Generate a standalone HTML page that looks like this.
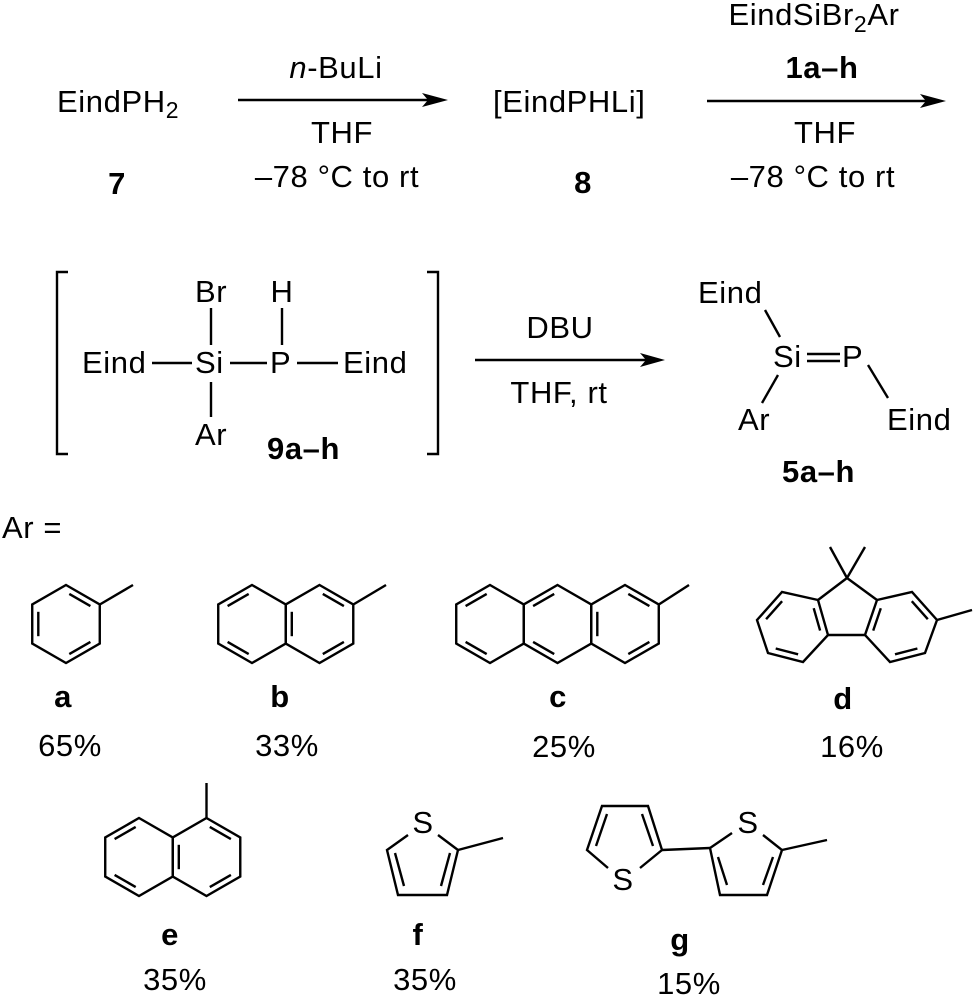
<!DOCTYPE html>
<html><head><meta charset="utf-8"><style>
html,body{margin:0;padding:0;background:#fff;}
svg{display:block;}
text{font-family:"Liberation Sans",Arial,sans-serif;font-size:31px;fill:#000;letter-spacing:0.6px;}
.b{font-weight:bold;}
line,polyline,polygon.r{stroke:#000;stroke-width:2.4;fill:none;stroke-linecap:butt;stroke-linejoin:miter;}
</style></head><body>
<svg width="975" height="1000" viewBox="0 0 975 1000" xmlns="http://www.w3.org/2000/svg">
<rect width="975" height="1000" fill="#fff"/>
<defs>
<g id="hex"><polygon class="r" points="0,-39 33.77,-19.5 33.77,19.5 0,39 -33.77,19.5 -33.77,-19.5"/></g>
<line id="i01" x1="3.3" y1="-30.1" x2="24.4" y2="-17.9"/>
<line id="i12" x1="27.7" y1="-12.2" x2="27.7" y2="12.2"/>
<line id="i23" x1="24.4" y1="17.9" x2="3.3" y2="30.1"/>
<line id="i34" x1="-3.3" y1="30.1" x2="-24.4" y2="17.9"/>
<line id="i45" x1="-27.7" y1="12.2" x2="-27.7" y2="-12.2"/>
<line id="i50" x1="-24.4" y1="-17.9" x2="-3.3" y2="-30.1"/>
</defs>

<!-- Top row -->
<text x="57" y="112">EindPH<tspan font-size="23" dy="6">2</tspan></text>
<text class="b" x="117" y="194" text-anchor="middle">7</text>
<text x="336" y="78" text-anchor="middle"><tspan font-style="italic">n</tspan>-BuLi</text>
<line x1="238" y1="100" x2="430" y2="100"/>
<polygon points="448,100 422,93 428,100 422,107" fill="#000"/>
<text x="342" y="143" text-anchor="middle">THF</text>
<text x="337" y="187" text-anchor="middle">–78 °C to rt</text>

<text x="493" y="112">[EindPHLi]</text>
<text class="b" x="583" y="193" text-anchor="middle">8</text>
<text x="814" y="25" text-anchor="middle">EindSiBr<tspan font-size="23" dy="7">2</tspan><tspan dy="-7">Ar</tspan></text>
<text class="b" x="822" y="78" text-anchor="middle">1a–h</text>
<line x1="707" y1="101" x2="928" y2="101"/>
<polygon points="946,101 920,94 926,101 920,108" fill="#000"/>
<text x="825" y="143" text-anchor="middle">THF</text>
<text x="813" y="187" text-anchor="middle">–78 °C to rt</text>

<!-- Middle row: bracketed intermediate -->
<polyline points="68,272 57,272 57,454 68,454"/>
<polyline points="427,272 438,272 438,454 427,454"/>
<text x="82" y="373">Eind</text>
<line x1="152" y1="363" x2="192" y2="363"/>
<text x="195" y="373">Si</text>
<line x1="230" y1="363" x2="267" y2="363"/>
<text x="270" y="373">P</text>
<line x1="297" y1="363" x2="338" y2="363"/>
<text x="343" y="373">Eind</text>
<text x="195" y="302">Br</text>
<line x1="211" y1="308" x2="211" y2="345"/>
<text x="282" y="302" text-anchor="middle">H</text>
<line x1="282" y1="308" x2="282" y2="345"/>
<line x1="211" y1="382" x2="211" y2="417"/>
<text x="195" y="445">Ar</text>
<text class="b" x="267" y="459">9a–h</text>

<text x="560" y="338" text-anchor="middle">DBU</text>
<line x1="475" y1="360" x2="647" y2="360"/>
<polygon points="665,360 640,353 646,360 640,367" fill="#000"/>
<text x="559" y="403" text-anchor="middle">THF, rt</text>

<text x="698" y="303">Eind</text>
<line x1="765" y1="310" x2="780" y2="337"/>
<text x="773" y="367">Si</text>
<line x1="807" y1="354" x2="840" y2="354"/>
<line x1="807" y1="361" x2="840" y2="361"/>
<text x="842" y="367">P</text>
<line x1="778" y1="375" x2="762" y2="403"/>
<text x="738" y="430">Ar</text>
<line x1="868" y1="365" x2="888" y2="398"/>
<text x="887" y="430">Eind</text>
<text class="b" x="782" y="482">5a–h</text>

<text x="2" y="538">Ar =</text>

<!-- a: phenyl -->
<g transform="translate(66,624)"><use href="#hex"/><use href="#i01"/><use href="#i23"/><use href="#i45"/></g>
<line x1="99.8" y1="604.5" x2="133" y2="585"/>
<text class="b" x="63" y="707" text-anchor="middle">a</text>
<text x="70" y="756" text-anchor="middle">65%</text>

<!-- b: 2-naphthyl -->
<g transform="translate(252,624)"><use href="#hex"/><use href="#i50"/><use href="#i34"/></g>
<g transform="translate(319.5,624)"><use href="#hex"/><use href="#i45"/><use href="#i01"/><use href="#i23"/></g>
<line x1="353.3" y1="604.5" x2="386" y2="585"/>
<text class="b" x="280" y="707" text-anchor="middle">b</text>
<text x="287" y="756" text-anchor="middle">33%</text>

<!-- c: 2-anthryl -->
<g transform="translate(490,624)"><use href="#hex"/><use href="#i50"/><use href="#i34"/></g>
<g transform="translate(557.5,624)"><use href="#hex"/><use href="#i50"/><use href="#i34"/></g>
<g transform="translate(625,624)"><use href="#hex"/><use href="#i45"/><use href="#i01"/><use href="#i23"/></g>
<line x1="658.8" y1="604.5" x2="689" y2="585"/>
<text class="b" x="558" y="707" text-anchor="middle">c</text>
<text x="564" y="757" text-anchor="middle">25%</text>

<!-- d: 9,9-dimethylfluoren-2-yl -->
<line x1="847" y1="578" x2="830" y2="547"/>
<line x1="847" y1="578" x2="865" y2="547"/>
<line x1="847" y1="578" x2="818" y2="600"/>
<line x1="847" y1="578" x2="877" y2="600"/>
<polygon class="r" points="818,600 782,592 757,620 768,653 803,662 828,635"/>
<polygon class="r" points="877,600 912,592 937,620 925,653 890,662 865,635"/>
<line x1="828" y1="635" x2="865" y2="635"/>
<line x1="937" y1="620" x2="972" y2="610"/>
<line x1="782.1" y1="601.2" x2="766.1" y2="619.2"/>
<line x1="775.7" y1="648.5" x2="798.1" y2="654.3"/>
<line x1="813.7" y1="608.2" x2="820.1" y2="630.6"/>
<line x1="880.8" y1="608.2" x2="873.2" y2="630.6"/>
<line x1="911.8" y1="601.2" x2="927.8" y2="619.2"/>
<line x1="917.4" y1="648.5" x2="895" y2="654.3"/>
<text class="b" x="843" y="709" text-anchor="middle">d</text>
<text x="852" y="757" text-anchor="middle">16%</text>

<!-- e: 1-naphthyl -->
<g transform="translate(139,857)"><use href="#hex"/><use href="#i50"/><use href="#i34"/></g>
<g transform="translate(206.5,857)"><use href="#hex"/><use href="#i45"/><use href="#i01"/><use href="#i23"/></g>
<line x1="206.5" y1="818" x2="206.5" y2="783"/>
<text class="b" x="170" y="945" text-anchor="middle">e</text>
<text x="175" y="990" text-anchor="middle">35%</text>

<!-- f: 2-thienyl -->
<text x="423" y="833" text-anchor="middle">S</text>
<polyline points="408,835 387,850 398,895 447,895 458,850 438,835"/>
<line x1="395" y1="853" x2="404" y2="886"/>
<line x1="450" y1="853" x2="441" y2="886"/>
<line x1="458" y1="850" x2="503" y2="838"/>
<text class="b" x="418" y="945" text-anchor="middle">f</text>
<text x="425" y="990" text-anchor="middle">35%</text>

<!-- g: bithienyl -->
<text x="623" y="890" text-anchor="middle">S</text>
<polyline points="608,868 587,850 602,806 648,806 662,850 640,868"/>
<line x1="596" y1="846" x2="607" y2="814"/>
<line x1="642" y1="814" x2="653" y2="846"/>
<line x1="662" y1="850" x2="710" y2="848"/>
<text x="748" y="833" text-anchor="middle">S</text>
<polyline points="732,833 710,848 720,895 767,895 782,850 763,835"/>
<line x1="718" y1="857" x2="727" y2="885"/>
<line x1="773" y1="857" x2="763" y2="885"/>
<line x1="782" y1="850" x2="827" y2="840"/>
<text class="b" x="680" y="950" text-anchor="middle">g</text>
<text x="689" y="994" text-anchor="middle">15%</text>
</svg>
</body></html>
